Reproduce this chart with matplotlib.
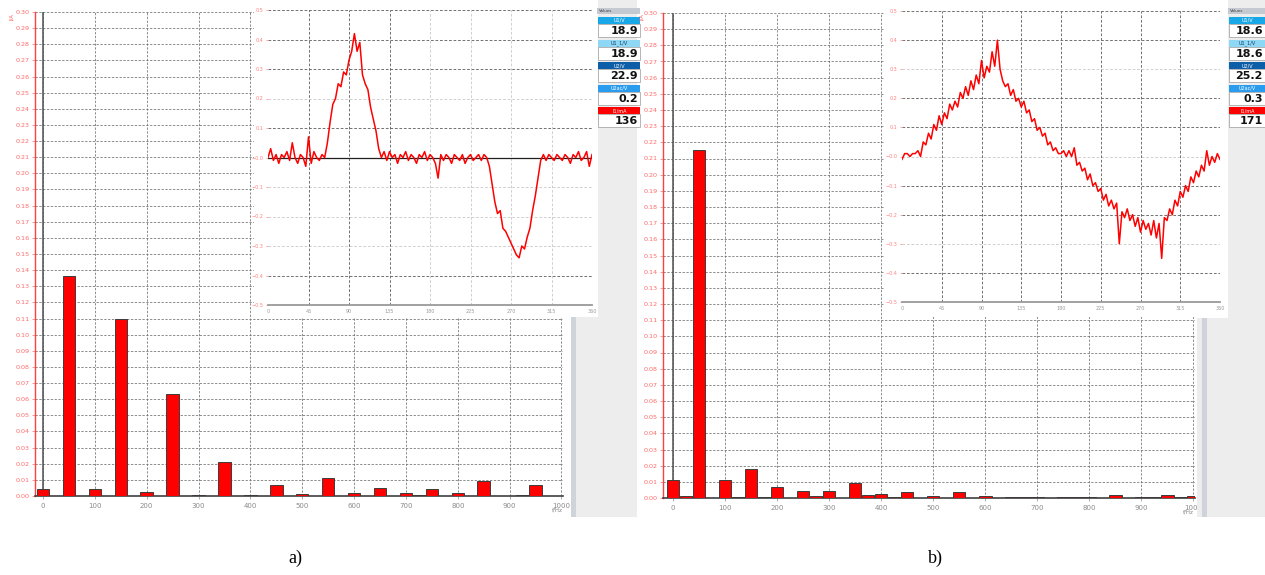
import matplotlib.pyplot as plt
from matplotlib.patches import Rectangle
import numpy as np

# harmonic spectrum, 25 Hz bins
freqs = list(range(0, 1001, 25))
amp_a = [0.0042, 0, 0.1365, 0, 0.0042, 0, 0.1095, 0, 0.0022, 0,
         0.0630, 0, 0.0007, 0, 0.0210, 0, 0.0008, 0, 0.0066, 0,
         0.0015, 0, 0.0114, 0, 0.0018, 0, 0.0048, 0, 0.0017, 0.0008,
         0.0044, 0, 0.0017, 0, 0.0092, 0, 0, 0.0008, 0.0066, 0, 0]
amp_b = [0.0109, 0.0010, 0.2150, 0, 0.0113, 0.0005, 0.0179, 0.0008, 0.0068, 0,
         0.0043, 0.0015, 0.0041, 0, 0.0093, 0.0020, 0.0025, 0.0005, 0.0035, 0.0003,
         0.0010, 0, 0.0036, 0, 0.0012, 0, 0.0008, 0.0008, 0.0008, 0,
         0.0005, 0.0005, 0.0008, 0, 0.0019, 0, 0.0009, 0.0005, 0.0016, 0.0008, 0.0010]

# current waveform over one period, degrees
angle = list(range(0, 361, 3))
wave_a = [0.00, 0.03, -0.01, 0.01, -0.02, 0.01, 0.00, 0.02, -0.01, 0.05,
          0.00, -0.02, 0.01, 0.00, -0.03, 0.07, -0.02, 0.02, 0.00, -0.01,
          0.01, 0.00, 0.05, 0.12, 0.18, 0.20, 0.25, 0.24, 0.29, 0.28,
          0.33, 0.36, 0.42, 0.36, 0.39, 0.28, 0.25, 0.23, 0.17, 0.13,
          0.09, 0.03, 0.00, 0.02, -0.01, 0.02, 0.00, 0.01, -0.02, 0.01,
          0.00, 0.02, -0.01, 0.01, 0.00, -0.02, 0.01, 0.00, 0.02, -0.01,
          0.01, 0.00, -0.02, -0.07, 0.01, -0.01, 0.01, 0.00, -0.02, 0.01,
          0.00, -0.01, 0.01, -0.02, 0.00, 0.01, -0.01, 0.00, 0.01, -0.01,
          0.01, 0.00, -0.03, -0.09, -0.15, -0.19, -0.18, -0.24, -0.25, -0.27,
          -0.29, -0.31, -0.33, -0.34, -0.30, -0.31, -0.27, -0.24, -0.18, -0.13,
          -0.07, -0.01, 0.01, -0.01, 0.01, 0.00, -0.01, 0.01, 0.00, -0.01,
          0.01, 0.00, -0.02, 0.01, 0.00, 0.02, -0.01, 0.00, 0.02, -0.03,
          0.01]
wave_b = [-0.01, 0.01, 0.01, 0.00, 0.01, 0.01, 0.02, 0.00, 0.05, 0.04,
          0.08, 0.06, 0.11, 0.09, 0.14, 0.11, 0.15, 0.13, 0.18, 0.16,
          0.19, 0.17, 0.22, 0.20, 0.24, 0.21, 0.26, 0.23, 0.28, 0.25,
          0.33, 0.27, 0.31, 0.29, 0.36, 0.31, 0.40, 0.30, 0.26, 0.24,
          0.25, 0.21, 0.23, 0.19, 0.20, 0.17, 0.19, 0.15, 0.16, 0.12,
          0.13, 0.09, 0.10, 0.07, 0.08, 0.04, 0.05, 0.02, 0.03, 0.01,
          0.01, 0.02, 0.00, 0.02, 0.00, 0.03, -0.03, -0.02, -0.05, -0.04,
          -0.08, -0.06, -0.10, -0.09, -0.12, -0.11, -0.15, -0.13, -0.17, -0.15,
          -0.18, -0.16, -0.30, -0.19, -0.21, -0.18, -0.22, -0.20, -0.24, -0.21,
          -0.26, -0.22, -0.25, -0.23, -0.27, -0.22, -0.28, -0.23, -0.35, -0.21,
          -0.22, -0.18, -0.20, -0.15, -0.17, -0.12, -0.14, -0.10, -0.12, -0.07,
          -0.09, -0.05, -0.07, -0.03, -0.05, 0.02, -0.03, 0.00, -0.02, 0.01,
          -0.01]

meter_labels = ['U1/V', 'U1_1/V', 'U2/V', 'U2ac/V', 'I1/mA']
meter_a = ['18.9', '18.9', '22.9', '0.2', '136']
meter_b = ['18.6', '18.6', '25.2', '0.3', '171']
meter_colors = ['#18a8e8', '#8ed8f6', '#0d5ea8', '#2a9cf0', '#ff0000']

W, H = 1265, 575
fig = plt.figure(figsize=(W / 100, H / 100), dpi=100)


def box(x0, y0, x1, y1):
    return [x0 / W, 1 - y1 / H, (x1 - x0) / W, (y1 - y0) / H]


def rect(x0, y0, x1, y1, color, z=0.5, ec='none', lw=0):
    fig.patches.append(Rectangle((x0 / W, 1 - y1 / H), (x1 - x0) / W, (y1 - y0) / H,
                                 transform=fig.transFigure, facecolor=color,
                                 edgecolor=ec, linewidth=lw, zorder=z))


def ftext(x, y, s, **kw):
    fig.text(x / W, 1 - y / H, s, **kw)


def spectrum(pos, amps, left):
    ax = fig.add_axes(box(*pos))
    ax.set_zorder(0)
    ax.bar(freqs, amps, width=24, color='red', edgecolor='#3c3c3c', linewidth=0.7, zorder=3)
    ax.set_xlim(left, 1003)
    ax.set_ylim(0, 0.30)
    ax.set_yticks(np.arange(0, 0.3001, 0.01))
    ax.yaxis.set_major_formatter('{x:.2f}')
    ax.set_xticks(range(0, 1001, 100))
    ax.tick_params(axis='y', colors='#ff6a6a', labelsize=4.6, length=2, width=0.5, pad=2)
    ax.tick_params(axis='x', colors='#8a8a8a', labelsize=5, length=2, width=0.5, pad=3)
    ax.grid(True, color='#6e6e6e', linestyle=(0, (3, 2)), linewidth=0.55)
    ax.axvline(0, color='#505050', lw=1.1, zorder=2)
    for s in ['top', 'right']:
        ax.spines[s].set_visible(False)
    ax.spines['left'].set_color('#ff4040')
    ax.spines['left'].set_linewidth(1)
    ax.spines['bottom'].set_color('#404040')
    ax.spines['bottom'].set_linewidth(1.2)
    return ax


def waveform(pos, wave, hdark, vdark, zero_black):
    ax = fig.add_axes(box(*pos))
    ax.set_zorder(2)
    ax.set_xlim(0, 360)
    ax.set_ylim(-0.5, 0.5)
    ax.set_xticks(range(0, 361, 45))
    ax.set_yticks(np.round(np.arange(-0.5, 0.501, 0.1), 1))
    ax.yaxis.set_major_formatter('{x:.1f}')
    ax.tick_params(axis='y', colors='#ff8080', labelsize=3.5, length=1.5, width=0.5, pad=2)
    ax.tick_params(axis='x', colors='#9a9a9a', labelsize=3.5, length=0, pad=3)
    for lv, d in zip(np.arange(-0.4, 0.51, 0.1), hdark):
        ax.axhline(lv, color='#666666' if d else '#cccccc', lw=0.65,
                   linestyle=(0, (3, 2)), zorder=1)
    for lv, d in zip(range(45, 361, 45), vdark):
        ax.axvline(lv, color='#666666' if d else '#cccccc', lw=0.65,
                   linestyle=(0, (3, 2)), zorder=1)
    if zero_black:
        ax.axhline(0, color='#202020', lw=0.9, zorder=2)
    ax.plot(angle, wave, color='red', lw=1.1, zorder=3)
    for s in ['top', 'right', 'left']:
        ax.spines[s].set_visible(False)
    ax.spines['bottom'].set_color('#9a9a9a')
    ax.spines['bottom'].set_linewidth(1.3)
    return ax


def meter(x0, x1, gray_right, vals):
    rect(x0, 0, gray_right, 517, '#ededed', z=0.5)
    rect(x0, 8, x1, 14, '#c5cad2', z=3)
    ftext(x0 + 2, 11, 'Values', fontsize=3, color='#404040', va='center', zorder=4)
    for i, (lab, v, c) in enumerate(zip(meter_labels, vals, meter_colors)):
        top = 17 + i * 22.6
        rect(x0 + 1, top, x1, top + 7, c, z=3)
        ftext((x0 + x1) / 2 + 1, top + 3.5, lab, fontsize=3.5, ha='center', va='center',
              color='#1a3a60' if i == 1 else 'white', zorder=4)
        rect(x0 + 1, top + 7, x1, top + 20, 'white', z=3, ec='#9a9a9a', lw=0.5)
        ftext(x1 - 2, top + 14, v, fontsize=8, fontweight='bold', ha='right',
              va='center', color='#111111', zorder=4)


# panel a
rect(571, 317, 637, 517, '#ededed', z=0.5)
rect(571, 317, 576, 517, '#cfd3da', z=0.6)
meter(597, 640, 637, meter_a)
spectrum((35, 12, 563, 496), amp_a, -15.4)
rect(254, 0, 598, 317, 'white', z=1)
waveform((268, 10, 592, 305), wave_a,
         [1, 0, 0, 0, 1, 1, 0, 1, 1, 1], [1, 1, 1, 0, 0, 0, 0, 1], True)
ftext(11, 17, 'I/A', fontsize=3.8, color='#ff5c5c', rotation=90, ha='center', va='center')
ftext(557, 510, 'f/Hz', fontsize=4, color='#808080', ha='center', va='center')

# panel b
rect(1197, 318, 1265, 517, '#ededed', z=0.5)
rect(1202, 318, 1207, 517, '#cfd3da', z=0.6)
meter(1228, 1265, 1265, meter_b)
spectrum((663, 13, 1195, 498), amp_b, -19.2)
rect(884, 0, 1228, 317, 'white', z=1)
waveform((902, 11, 1220, 302), wave_b,
         [1, 0, 1, 1, 0, 1, 1, 0, 1, 1], [1, 1, 1, 1, 1, 1, 1, 1], False)
ftext(641, 17, 'I/A', fontsize=3.8, color='#ff5c5c', rotation=90, ha='center', va='center')
ftext(1188, 512, 'f/Hz', fontsize=4, color='#808080', ha='center', va='center')

# captions
ftext(295, 558, 'a)', fontsize=13, family='Liberation Serif', ha='center', va='center')
ftext(935, 558, 'b)', fontsize=13, family='Liberation Serif', ha='center', va='center')

fig.savefig('out.png', dpi=100)
